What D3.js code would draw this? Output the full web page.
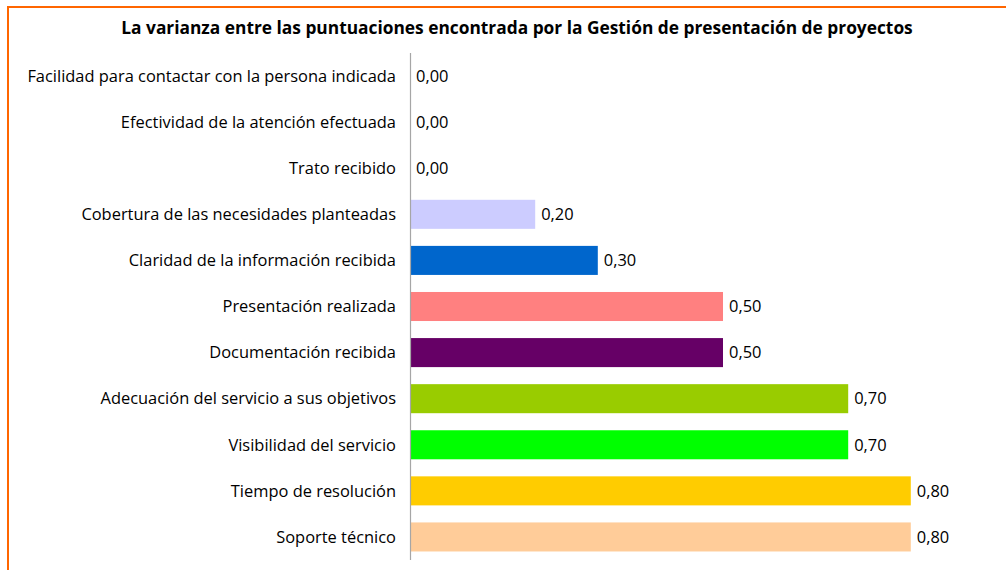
<!DOCTYPE html>
<html><head><meta charset="utf-8">
<script src="https://cdn.jsdelivr.net/npm/d3@7"></script>
<style>body{margin:0;background:#fff}svg{display:block}</style>
</head><body>
<svg id="c" width="1006" height="570"></svg>
<script>
const categories = ["Facilidad para contactar con la persona indicada","Efectividad de la atención efectuada","Trato recibido","Cobertura de las necesidades planteadas","Claridad de la información recibida","Presentación realizada","Documentación recibida","Adecuación del servicio a sus objetivos","Visibilidad del servicio","Tiempo de resolución","Soporte técnico"];
const values = [0.00,0.00,0.00,0.20,0.30,0.50,0.50,0.70,0.70,0.80,0.80];
const colors = ["#CCCCFF","#CCCCFF","#CCCCFF","#CCCCFF","#0066CC","#FF8080","#660066","#99CC00","#00FF00","#FFCC00","#FFCC99"];
const title = "La varianza entre las puntuaciones encontrada por la Gestión de presentación de proyectos";

const svg = d3.select("#c");
const font = "'Open Sans', sans-serif";
svg.append("line").attr("x1",8).attr("x2",1006).attr("y1",7).attr("y2",7).attr("stroke","#FF6600").attr("stroke-width",2);
svg.append("line").attr("x1",8).attr("x2",8).attr("y1",6).attr("y2",570).attr("stroke","#FF6600").attr("stroke-width",2);

const t = svg.append("text").attr("x",517).attr("y",34).attr("text-anchor","middle")
  .attr("font-family",font).attr("font-weight","bold").attr("font-size",16).attr("fill","#000").text(title);
const tw = t.node().getComputedTextLength();
t.attr("font-size",16*792/tw);

const x = d3.scaleLinear().domain([0,1]).range([410,1036]);
const y = d3.scaleBand().domain(categories).range([53,560]).paddingInner(0.37).paddingOuter(0.185);

svg.selectAll("rect.bar").data(categories).join("rect")
  .attr("x",x(0)).attr("y",d=>y(d)).attr("height",y.bandwidth())
  .attr("width",(d,i)=>x(values[i])-x(0)).attr("fill",(d,i)=>colors[i]);

svg.append("line").attr("x1",x(0)+0.5).attr("x2",x(0)+0.5).attr("y1",53).attr("y2",560).attr("stroke","#A6A6A6").attr("stroke-width",1.2);

const cats = svg.selectAll("text.cat").data(categories).join("text")
  .attr("x",396).attr("y",d=>y(d)+y.bandwidth()/2).attr("dy","0.35em").attr("text-anchor","end")
  .attr("font-family",font).attr("font-size",15).attr("fill","#000").text(d=>d);
const cw = cats.nodes()[0].getComputedTextLength();
const fs = 15*369/cw;
cats.attr("font-size",fs);

const fmt = v => v.toFixed(2).replace(".",",");
svg.selectAll("text.val").data(categories).join("text")
  .attr("x",(d,i)=>x(values[i])+6).attr("y",d=>y(d)+y.bandwidth()/2).attr("dy","0.35em")
  .attr("font-family",font).attr("font-size",fs).attr("fill","#000").text((d,i)=>fmt(values[i]));
</script>
</body></html>
